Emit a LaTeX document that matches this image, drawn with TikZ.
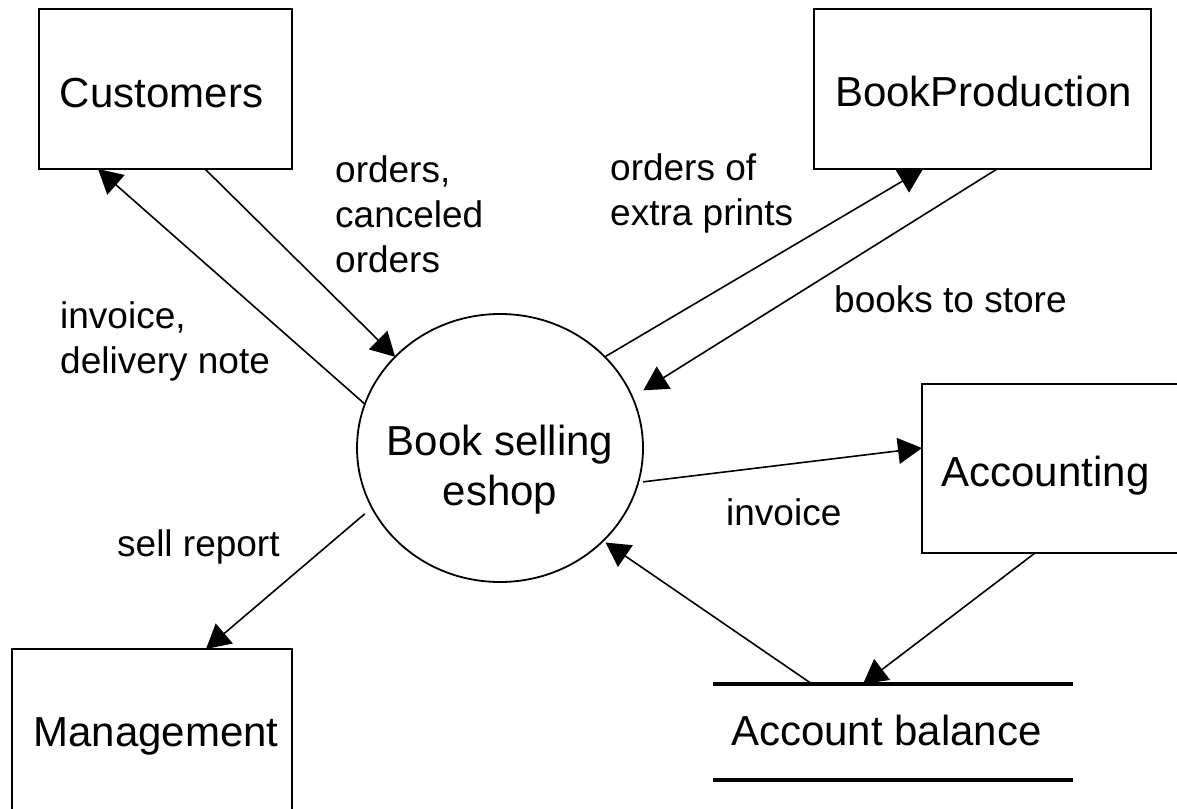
\documentclass[tikz,border=0pt]{standalone}
\usepackage{fontspec}
\setmainfont{Liberation Sans}
\usetikzlibrary{arrows.meta,shapes.geometric}
\tikzset{
  box/.style={draw, line width=1.8pt, rectangle, inner sep=0pt, outer sep=0pt},
  procbox/.style={draw, ellipse, line width=1.8pt, inner sep=0pt, outer sep=0pt,
                  minimum width=286pt, minimum height=268pt},
  flow/.style={-{Triangle[length=24pt,width=26pt]}, line width=1.6pt},
  lbl/.style={font=\fontsize{37}{45}\selectfont, align=left, inner sep=0pt},
  big/.style={font=\fontsize{42}{50}\selectfont, inner sep=0pt},
  storeline/.style={line width=4.5pt}
}
\begin{document}
\begin{tikzpicture}[x=1pt,y=-1pt]
\useasboundingbox (0,0) rectangle (1177,808);
\clip (0,0) rectangle (1177,808);
% entities
\node[box, anchor=north west, minimum width=253pt, minimum height=160pt] (cust) at (39,9) {};
\node[box, anchor=north west, minimum width=337pt, minimum height=160pt] (bp) at (814,9) {};
\node[box, anchor=north west, minimum width=270pt, minimum height=169pt] (acc) at (922,384) {};
\node[box, anchor=north west, minimum width=280pt, minimum height=170pt] (mgmt) at (12,649) {};
\node[procbox] (shop) at (500,448) {};
\node[minimum width=360pt, minimum height=96pt, inner sep=0pt, outer sep=0pt] (store) at (893,732) {};
\draw[storeline] (store.north west) -- (store.north east);
\draw[storeline] (store.south west) -- (store.south east);
% texts
\node[big, anchor=base] (custt) at (161.5,107) {Customers};
\node[big, anchor=base] (bpt) at (983.5,106) {BookProduction};
\node[big, anchor=base] (acct) at (1045.5,486) {Accounting};
\node[big, anchor=base] (mgmtt) at (156,746) {Management};
\node[big, anchor=base] (storet) at (886.5,745) {Account balance};
\node[big, anchor=north, align=center] (shopt) at (500,425) {Book selling\\eshop};
% flows
\draw[flow] ([xshift=166pt]cust.south west) -- (shop.139.3);
\draw[flow] (shop.162) -- ([xshift=59pt]cust.south west);
\draw[flow] (shop.41.2) -- ([xshift=109pt]bp.south west);
\draw[flow, shorten >=13pt] ([xshift=183pt]bp.south west) -- (shop.21.1);
\draw[flow, shorten <=5pt] (shop.-14.6) -- ([yshift=-64pt]acc.north west);
\draw[flow] ([xshift=113pt]acc.south west) -- ([xshift=150pt]store.north west);
\draw[flow, shorten >=3pt] ([xshift=99pt]store.north west) -- (shop.-42.3);
\draw[flow, shorten <=9.5pt] (shop.-155.8) -- ([xshift=194pt]mgmt.north west);
% labels
\node[lbl, anchor=north west] (l1) at (335,155.5) {orders,\\canceled\\orders};
\node[lbl, anchor=north west] (l2) at (610,153) {orders of\\extra prints};
\node[lbl, anchor=north west] (l3) at (60,301.5) {invoice,\\delivery note};
\node[lbl, anchor=base west] (l4) at (834,312) {books to store};
\node[lbl, anchor=base west] (l5) at (726,525) {invoice};
\node[lbl, anchor=base west] (l6) at (117,556) {sell report};
\end{tikzpicture}
\end{document}
